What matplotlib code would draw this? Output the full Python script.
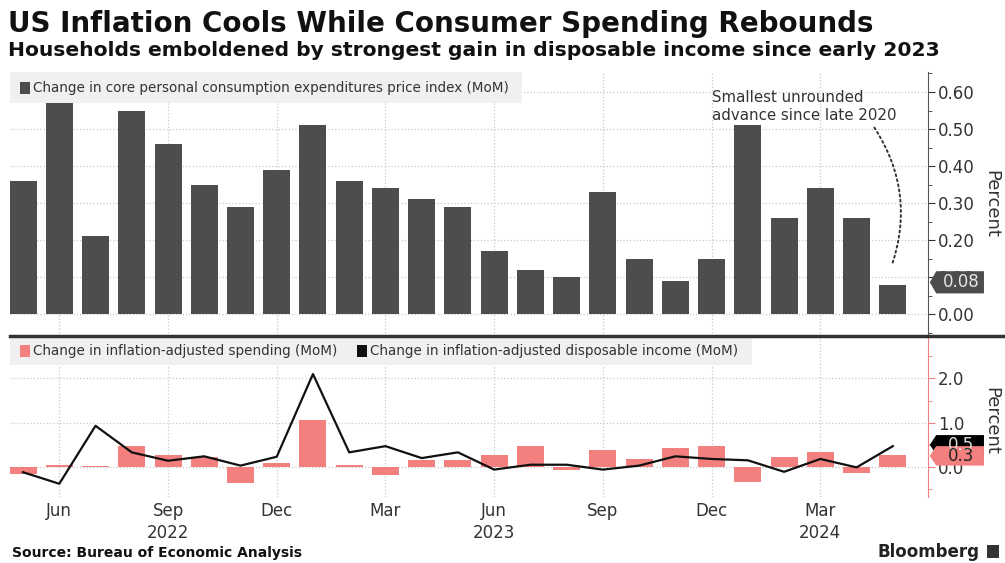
import matplotlib.pyplot as plt
from matplotlib.patches import Rectangle, Polygon
from matplotlib.lines import Line2D
from matplotlib.transforms import blended_transform_factory
from matplotlib.ticker import MultipleLocator

plt.rcParams['font.family'] = 'DejaVu Sans'

months = ['2022-05', '2022-06', '2022-07', '2022-08', '2022-09', '2022-10', '2022-11',
          '2022-12', '2023-01', '2023-02', '2023-03', '2023-04', '2023-05', '2023-06',
          '2023-07', '2023-08', '2023-09', '2023-10', '2023-11', '2023-12', '2024-01',
          '2024-02', '2024-03', '2024-04', '2024-05']
core_pce = [0.36, 0.57, 0.21, 0.55, 0.46, 0.35, 0.29, 0.39, 0.51, 0.36, 0.34, 0.31, 0.29,
            0.17, 0.12, 0.10, 0.33, 0.15, 0.09, 0.15, 0.51, 0.26, 0.34, 0.26, 0.08]
spending = [-0.15, 0.04, 0.03, 0.47, 0.28, 0.23, -0.36, 0.09, 1.05, 0.05, -0.19, 0.15, 0.15,
            0.27, 0.48, -0.06, 0.38, 0.17, 0.43, 0.47, -0.35, 0.23, 0.33, -0.14, 0.26]
income = [-0.12, -0.38, 0.93, 0.33, 0.14, 0.24, 0.03, 0.23, 2.10, 0.33, 0.47, 0.20, 0.33,
          -0.06, 0.05, 0.05, -0.06, 0.03, 0.24, 0.18, 0.15, -0.11, 0.18, -0.01, 0.47]
tick_idx = [1, 4, 7, 10, 13, 16, 19, 22]
tick_labels = ['Jun', 'Sep\n2022', 'Dec', 'Mar', 'Jun\n2023', 'Sep', 'Dec', 'Mar\n2024']

bar_dark = '#4d4d4d'
pink = '#f47f7f'
grid_c = '#c8c8c8'
text_c = '#333333'
x = list(range(len(months)))

fig = plt.figure(figsize=(10.05, 5.63), dpi=100)
ax1 = fig.add_axes([0.00995, 0.4032, 0.9134, 0.4689])
ax2 = fig.add_axes([0.00995, 0.1172, 0.9134, 0.2860])

for ax in (ax1, ax2):
    ax.set_xlim(-0.36, 24.97)
    for s in ('left', 'top', 'bottom'):
        ax.spines[s].set_visible(False)
    ax.yaxis.tick_right()
    ax.set_xticks(tick_idx)
    ax.grid(True, color=grid_c, linestyle=':', linewidth=0.9)
    ax.set_axisbelow(True)
    ax.tick_params(axis='x', length=0)
    ax.tick_params(axis='y', which='major', length=5, labelsize=12, colors=text_c, pad=2)
    ax.tick_params(axis='y', which='minor', length=3, colors=text_c)

# top panel
ax1.bar(x, core_pce, width=0.745, color=bar_dark, zorder=2)
ax1.set_ylim(-0.059, 0.654)
ax1.set_yticks([0, 0.1, 0.2, 0.3, 0.4, 0.5, 0.6])
ax1.set_yticklabels(['0.00', '0.10', '0.20', '0.30', '0.40', '0.50', '0.60'])
ax1.yaxis.set_minor_locator(MultipleLocator(0.05))
ax1.set_xticklabels([])
ax1.spines['right'].set_color('#555555')

ax1.add_patch(Rectangle((0, 0.883), 0.558, 0.117, transform=ax1.transAxes,
                        facecolor='#f0f0f0', edgecolor='none', zorder=3))
ax1.add_patch(Rectangle((0.011, 0.918), 0.011, 0.045, transform=ax1.transAxes,
                        facecolor=bar_dark, edgecolor='none', zorder=4))
ax1.text(0.025, 0.941, 'Change in core personal consumption expenditures price index (MoM)',
         transform=ax1.transAxes, fontsize=9.75, color=text_c, va='center', zorder=4)

ax1.text(19.0, 0.605, 'Smallest unrounded\nadvance since late 2020', fontsize=10.8,
         color=text_c, va='top', ha='left', linespacing=1.25, zorder=4)
ax1.annotate('', xy=(23.95, 0.125), xytext=(23.45, 0.51),
             arrowprops=dict(arrowstyle='-', linestyle=':', color='#333333', lw=1.4,
                             connectionstyle='arc3,rad=-0.25'), zorder=4)

tr1 = blended_transform_factory(ax1.transAxes, ax1.transData)
v = 0.086
ax1.add_patch(Polygon([(1.002, v), (1.009, v + 0.03), (1.061, v + 0.03), (1.061, v - 0.03),
                       (1.009, v - 0.03)], closed=True, transform=tr1, clip_on=False,
                      facecolor=bar_dark, edgecolor='none', zorder=5))
ax1.text(1.036, v, '0.08', transform=tr1, fontsize=12, color='#e6e6e6', ha='center',
         va='center', zorder=6, clip_on=False)

# bottom panel
ax2.bar(x, spending, width=0.745, color=pink, zorder=2)
ax2.plot(x, income, color='#111111', linewidth=1.6, zorder=3)
ax2.set_ylim(-0.68, 2.96)
ax2.set_yticks([0, 1, 2])
ax2.set_yticklabels(['0.0', '1.0', '2.0'])
ax2.yaxis.set_minor_locator(MultipleLocator(0.5))
ax2.spines['right'].set_color(pink)
ax2.tick_params(axis='y', which='both', color=pink)
ax2.set_xticklabels(tick_labels, fontsize=12, color=text_c, linespacing=1.3)

ax2.add_patch(Rectangle((0, 0.82), 0.808, 0.18, transform=ax2.transAxes,
                        facecolor='#f0f0f0', edgecolor='none', zorder=3))
ax2.add_patch(Rectangle((0.011, 0.87), 0.011, 0.075, transform=ax2.transAxes,
                        facecolor=pink, edgecolor='none', zorder=4))
ax2.text(0.025, 0.907, 'Change in inflation-adjusted spending (MoM)',
         transform=ax2.transAxes, fontsize=9.75, color=text_c, va='center', zorder=4)
ax2.add_patch(Rectangle((0.378, 0.87), 0.011, 0.075, transform=ax2.transAxes,
                        facecolor='#111111', edgecolor='none', zorder=4))
ax2.text(0.392, 0.907, 'Change in inflation-adjusted disposable income (MoM)',
         transform=ax2.transAxes, fontsize=9.75, color=text_c, va='center', zorder=4)

tr2 = blended_transform_factory(ax2.transAxes, ax2.transData)
for val, shown, fc, tc in [(0.50, '0.5', '#000000', '#dddddd'), (0.25, '0.3', pink, '#222222')]:
    h = 0.22
    ax2.add_patch(Polygon([(1.002, val), (1.009, val + h), (1.061, val + h), (1.061, val - h),
                           (1.009, val - h)], closed=True, transform=tr2, clip_on=False,
                          facecolor=fc, edgecolor='none', zorder=5))
    ax2.text(1.036, val, shown, transform=tr2, fontsize=12, color=tc, ha='center',
             va='center', zorder=6, clip_on=False)

# axis titles
fig.text(0.986, 0.638, 'Percent', rotation=270, fontsize=13, color=text_c,
         ha='center', va='center')
fig.text(0.986, 0.252, 'Percent', rotation=270, fontsize=13, color=text_c,
         ha='center', va='center')

# divider between panels
fig.add_artist(Line2D([0.00995, 1.0], [0.4032, 0.4032], transform=fig.transFigure,
                      color='#333333', linewidth=2.5))

fig.text(0.008, 0.958, 'US Inflation Cools While Consumer Spending Rebounds', fontsize=20,
         fontweight='bold', color='#111111', va='center')
fig.text(0.008, 0.91, 'Households emboldened by strongest gain in disposable income since early 2023',
         fontsize=14.6, fontweight='bold', color='#111111', va='center')
fig.text(0.012, 0.017, 'Source: Bureau of Economic Analysis', fontsize=10, fontweight='bold',
         color='#111111', va='center')
fig.text(0.975, 0.019, 'Bloomberg', fontsize=12, fontweight='bold', color='#222222',
         va='center', ha='right')
fig.add_artist(Rectangle((0.982, 0.008), 0.012, 0.024, transform=fig.transFigure,
                         facecolor='#333333', edgecolor='none'))

fig.savefig('out.png', dpi=100)
